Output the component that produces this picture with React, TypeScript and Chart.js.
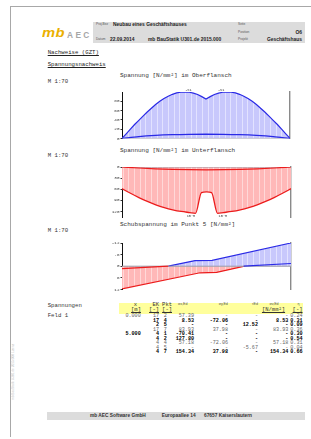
import React, { useEffect, useRef } from "react";
import { Chart, registerables } from "chart.js";
Chart.register(...registerables);

const MONO = '"Liberation Mono", "DejaVu Sans Mono", monospace';
const SANS = '"Liberation Sans", Arial, sans-serif';

// ---------- Daten ----------
const stationenFein = [0,0.25,0.5,0.75,1,1.25,1.5,1.75,2,2.25,2.5,2.75,3,3.25,3.5,3.75,4,4.25,4.5,4.75,5,5.25,5.5,5.75,6,6.25,6.5,6.75,7,7.25,7.5,7.75,8,8.25,8.5,8.75,9,9.25,9.5,9.75,10];
const stationenGrob = [0,1,2,3,4,5,6,7,8,9,10];
const nullX = [0, 10];
const nullY = [0, 0];

// Oberflansch
const oberflanschMax = [0,10,20,30,39,48,57,65,73,80,86,91,95,98,99.5,100,99.5,97.5,94.5,90,85,90,94.5,97.5,99.5,100,99.5,98,95,91,86,80,73,65,57,48,39,30,20,10,0];
const oberflanschMin = [0,4,6.5,8,8.8,9,8.8,8,6.5,4,0];
const oberTicks = [0,10,20,30,40,50,60,70,80,90];
const oberMarkenX = [3.95, 5.9];
const oberMarkenText = ["-S1", "-S1"];

// Unterflansch
const unterX = [0,0.5,1,1.5,2,2.5,3,3.5,4,4.35,4.7,5,5.3,5.65,6,6.5,7,7.5,8,8.5,9,9.5,10];
const unterflanschMin = [-58.5,-71,-82.5,-93,-102,-109.5,-115.5,-120,-123,-125,-69,-67,-69,-125,-123,-120,-115.5,-109.5,-102,-93,-82.5,-71,-58.5];
const unterflanschMax = [0,-2.7,-4.8,-6.3,-7.2,-7.5,-7.2,-6.3,-4.8,-2.7,0];
const unterTicks = [0,-15,-30,-45,-60,-75,-90,-105,-120];
const unterMarkenX = [4.08, 5.97];
const unterMarkenText = ["10·M", "10·M"];

// Schubspannung Punkt 5
const schubBlauX = [2.74, 4.32, 5.33, 10];
const schubBlauY = [0, 2.9, 3.0, 12];
const schubBlau2X = [7.2, 10];
const schubBlau2Y = [0, 1.4];
const schubRotX = [0, 4.62, 5.6, 7.25];
const schubRotY = [-11.7, -3.4, -3.2, 0];
const schubRot2X = [0, 2.74];
const schubRot2Y = [-1.2, 0];
const schubTicks = [12,9,6,3,0,-3,-6,-9,-12];

// Tabelle
const zeileX = ["0.000","","","","5.000","","","",""];
const zeileEK = ["17","17","2","17","4","4","4","4","4"];
const zeilePkt = ["2","4","5","7","1","2","4","5","7"];
const zeileSx = ["57.39","8.53","-","83.93","-70.41","127.80","57.18","-","154.34"];
const zeileSy = ["-","-72.06","-","37.98","-","-","-72.06","-","37.98"];
const zeileTau = ["-","-","12.52","-","-","-","-","-5.67","-"];
const zeileSv = ["-","8.53","-","83.93","-","-","57.18","-","154.34"];
const zeileEta = ["0.24","0.31","0.09","0.36","0.30","0.54","0.31","0.04","0.66"];
const zeileFett = [false,true,true,false,true,true,false,false,true];

// ---------- Hilfen ----------
const BLAU = "#2a2ae6";
const ROT = "#ec1c1c";
const GRAU = "#9a9aa6";

function punkte(x: number[], y: number[]) {
  return x.map((v, i) => ({ x: v, y: y[i] }));
}

function schraffur(base: string, line: string) {
  const c = document.createElement("canvas");
  c.width = 17;
  c.height = 4;
  const g = c.getContext("2d")!;
  g.fillStyle = base;
  g.fillRect(0, 0, 17, 4);
  g.fillStyle = line;
  [0, 6, 11].forEach((p) => g.fillRect(p, 0, 1, 4));
  return g.createPattern(c, "repeat")!;
}

type Serie = { x: number[]; y: number[]; color: string; width: number; fill?: any; mono?: boolean };
type Cfg = {
  yMin: number;
  yMax: number;
  ticks: number[];
  tickText: (v: number) => string;
  pad: { left: number; right: number; top: number; bottom: number };
  serien: Serie[];
  markenX: number[];
  markenY: number;
  markenDy: number;
  markenText: string[];
};

function erstelle(canvas: HTMLCanvasElement, cfg: Cfg) {
  const markPlugin = {
    id: "marken",
    afterDatasetsDraw(chart: any) {
      const { ctx, scales } = chart;
      ctx.save();
      ctx.font = `3.6px ${MONO}`;
      ctx.fillStyle = "#333";
      ctx.textAlign = "center";
      ctx.textBaseline = "middle";
      cfg.markenX.forEach((mx, i) => {
        ctx.fillText(cfg.markenText[i], scales.x.getPixelForValue(mx), scales.y.getPixelForValue(cfg.markenY) + cfg.markenDy);
      });
      ctx.restore();
    },
  };
  return new Chart(canvas, {
    type: "line",
    data: {
      datasets: cfg.serien.map((s) => ({
        data: punkte(s.x, s.y),
        borderColor: s.color,
        borderWidth: s.width,
        pointRadius: 0,
        tension: 0,
        cubicInterpolationMode: s.mono ? "monotone" : "default",
        fill: s.fill ? "origin" : false,
        backgroundColor: s.fill || "transparent",
      })),
    } as any,
    options: {
      responsive: false,
      animation: false,
      events: [],
      layout: { padding: cfg.pad },
      plugins: { legend: { display: false }, tooltip: { enabled: false } },
      scales: {
        x: { type: "linear", min: 0, max: 10, display: false },
        y: {
          min: cfg.yMin,
          max: cfg.yMax,
          position: "left",
          afterFit: (s: any) => {
            s.width = 22;
          },
          afterBuildTicks: (s: any) => {
            s.ticks = cfg.ticks.map((v) => ({ value: v }));
          },
          grid: { display: true, drawOnChartArea: false, drawTicks: true, tickLength: 1.5, tickColor: "#333", color: "transparent" },
          border: { display: true, color: "#111", width: 1 },
          ticks: {
            padding: 1,
            color: "#333",
            font: { family: MONO, size: 4.3 },
            callback: (v: any) => cfg.tickText(Number(v)),
          },
        },
        yr: {
          position: "right",
          min: cfg.yMin,
          max: cfg.yMax,
          afterFit: (s: any) => {
            s.width = 0;
          },
          grid: { display: false, drawTicks: false },
          border: { display: true, color: "#8a8a8a", width: 1.4, dash: [1.4, 1.4] },
          ticks: { display: false },
        },
      },
    } as any,
    plugins: [markPlugin],
  });
}

function Diagramm({ left, top, width, height, make }: { left: number; top: number; width: number; height: number; make: () => Cfg }) {
  const ref = useRef<HTMLCanvasElement>(null);
  useEffect(() => {
    const c = erstelle(ref.current!, make());
    return () => c.destroy();
  }, []);
  return <canvas ref={ref} width={width} height={height} style={{ position: "absolute", left, top, width, height }} />;
}

function T(props: {
  x: number;
  cy: number;
  size: number;
  children: React.ReactNode;
  bold?: boolean;
  font?: string;
  color?: string;
  align?: "left" | "right" | "center";
  underline?: boolean;
  style?: React.CSSProperties;
}) {
  const { x, cy, size, children, bold, font = MONO, color = "#333", align = "left", underline, style } = props;
  const s: React.CSSProperties = {
    position: "absolute",
    top: cy - size / 2,
    fontSize: size,
    lineHeight: `${size}px`,
    fontFamily: font,
    fontWeight: bold ? 700 : 400,
    color,
    whiteSpace: "pre",
    textDecoration: underline ? "underline" : "none",
    ...style,
  };
  if (align === "left") s.left = x;
  else if (align === "right") s.right = 311 - x;
  else {
    s.left = x;
    s.transform = "translateX(-50%)";
  }
  return <div style={s}>{children}</div>;
}

const blauFill = () => schraffur("#c8c8fc", "#e2e2ff");
const rotFill = () => schraffur("#ffb8b8", "#ffd8d8");

const cfgOber = (): Cfg => ({
  yMin: 0,
  yMax: 100,
  ticks: oberTicks,
  tickText: (v) => String(v),
  pad: { left: 0, right: 10, top: 6, bottom: 3 },
  serien: [
    { x: stationenGrob, y: oberflanschMin, color: BLAU, width: 1.3, mono: true },
    { x: nullX, y: nullY, color: GRAU, width: 1 },
    { x: stationenFein, y: oberflanschMax, color: BLAU, width: 1.2, fill: blauFill() },
  ],
  markenX: oberMarkenX,
  markenY: 100,
  markenDy: -2,
  markenText: oberMarkenText,
});

const cfgUnter = (): Cfg => ({
  yMin: -135,
  yMax: 0,
  ticks: unterTicks,
  tickText: (v) => String(-v),
  pad: { left: 0, right: 9, top: 7, bottom: 5 },
  serien: [
    { x: stationenGrob, y: unterflanschMax, color: ROT, width: 1.2, mono: true },
    { x: nullX, y: nullY, color: GRAU, width: 1 },
    { x: unterX, y: unterflanschMin, color: ROT, width: 1.3, mono: true, fill: rotFill() },
  ],
  markenX: unterMarkenX,
  markenY: -126,
  markenDy: 2.5,
  markenText: unterMarkenText,
});

const cfgSchub = (): Cfg => ({
  yMin: -12,
  yMax: 12,
  ticks: schubTicks,
  tickText: (v) => String(-v),
  pad: { left: 0, right: 9, top: 6, bottom: 3 },
  serien: [
    { x: schubBlau2X, y: schubBlau2Y, color: BLAU, width: 1.2 },
    { x: schubRot2X, y: schubRot2Y, color: ROT, width: 1.2 },
    { x: nullX, y: nullY, color: GRAU, width: 1 },
    { x: schubBlauX, y: schubBlauY, color: BLAU, width: 1.2, fill: blauFill() },
    { x: schubRotX, y: schubRotY, color: ROT, width: 1.2, fill: rotFill() },
  ],
  markenX: [],
  markenY: 0,
  markenDy: 0,
  markenText: [],
});

const spalten = [
  { r: 140.7, d: zeileX },
  { r: 159, d: zeileEK },
  { r: 166.7, d: zeilePkt },
  { r: 194, d: zeileSx },
  { r: 228, d: zeileSy },
  { r: 258, d: zeileTau },
  { r: 288.3, d: zeileSv },
  { r: 302.5, d: zeileEta },
];

export default function App() {
  const zeileY0 = 316.6;
  const zeileDy = 4.55;
  return (
    <div style={{ position: "fixed", left: 0, top: 0, width: 311, height: 439, background: "#fff", overflow: "hidden" }}>
      {/* Rahmen */}
      <div style={{ position: "absolute", left: 10, top: 6, width: 301, height: 1, background: "#a8a8a8" }} />
      <div style={{ position: "absolute", left: 10, top: 6, width: 1, height: 431, background: "#a8a8a8" }} />
      <div
        style={{
          position: "absolute",
          left: 11.5,
          top: 400,
          transform: "rotate(-90deg)",
          transformOrigin: "0 0",
          fontSize: 3.2,
          lineHeight: "3.2px",
          fontFamily: SANS,
          color: "#c4c4c4",
          whiteSpace: "pre",
        }}
      >
        mb BauStatik U301.de 2015.000 Lizenz
      </div>

      {/* Logo */}
      <div
        style={{
          position: "absolute",
          left: 42,
          top: 27,
          fontFamily: SANS,
          fontWeight: 900,
          fontStyle: "italic",
          fontSize: 12.5,
          lineHeight: "12.5px",
          color: "#ebb000",
          transform: "scaleX(1.18)",
          transformOrigin: "0 0",
          letterSpacing: 0.3,
        }}
      >
        mb
      </div>
      <div
        style={{
          position: "absolute",
          left: 67,
          top: 30.5,
          fontFamily: SANS,
          fontWeight: 700,
          fontSize: 8.3,
          lineHeight: "8.3px",
          color: "#a6a6a6",
          letterSpacing: 2.4,
        }}
      >
        AEC
      </div>

      {/* Kopfzeile */}
      <div style={{ position: "absolute", left: 93, top: 22, width: 212, height: 21, background: "#dcdcdc" }} />
      <T x={96} cy={25} size={3.2} font={SANS} color="#555">Proj.Bez</T>
      <T x={113} cy={25} size={4.9} font={SANS} bold color="#222">Neubau eines Geschäftshauses</T>
      <T x={238} cy={25} size={3.2} font={SANS} color="#555">Seite</T>
      <T x={238} cy={33} size={3.2} font={SANS} color="#555">Position</T>
      <T x={302} cy={33} size={4.9} font={SANS} bold color="#222" align="right">O6</T>
      <T x={96} cy={40} size={3.2} font={SANS} color="#555">Datum</T>
      <T x={110} cy={40} size={4.9} font={SANS} bold color="#222">22.09.2014</T>
      <T x={148} cy={40} size={4.9} font={SANS} bold color="#222">mb BauStatik U301.de 2015.000</T>
      <T x={238} cy={40} size={3.2} font={SANS} color="#555">Projekt</T>
      <T x={302} cy={40} size={4.9} font={SANS} bold color="#222" align="right">Geschäftshaus</T>

      {/* Überschriften */}
      <T x={47.7} cy={53.3} size={5.7} underline color="#222">Nachweise (GZT)</T>
      <T x={47.7} cy={65.3} size={5.7} underline color="#222">Spannungsnachweis</T>
      <T x={120} cy={76} size={6} color="#333">Spannung [N/mm²] im Oberflansch</T>
      <T x={47.7} cy={82} size={5.7} color="#333">M 1:70</T>
      <T x={120} cy={151} size={6} color="#333">Spannung [N/mm²] im Unterflansch</T>
      <T x={47.7} cy={156.3} size={5.7} color="#333">M 1:70</T>
      <T x={120} cy={225} size={6} color="#333">Schubspannung im Punkt 5 [N/mm²]</T>
      <T x={47.7} cy={230.7} size={5.7} color="#333">M 1:70</T>

      {/* Diagramme */}
      <Diagramm left={100} top={86} width={200} height={56} make={cfgOber} />
      <Diagramm left={100} top={160} width={200} height={62} make={cfgUnter} />
      <Diagramm left={100} top={237} width={200} height={56} make={cfgSchub} />

      {/* Tabelle */}
      <T x={47.7} cy={306} size={5.7} color="#333">Spannungen</T>
      <T x={47.7} cy={316} size={5.7} color="#333">Feld 1</T>
      <div style={{ position: "absolute", left: 119.3, top: 302.5, width: 183.7, height: 11, background: "#ffff9c" }} />
      <T x={135.5} cy={305.2} size={5.5} align="center" color="#333">x</T>
      <T x={136} cy={310.2} size={5.5} align="center" underline color="#333">[m]</T>
      <T x={159} cy={305.2} size={5.5} align="right" color="#333">EK</T>
      <T x={159} cy={310.2} size={5.5} align="right" underline color="#333">[-]</T>
      <T x={172} cy={305.2} size={5.5} align="right" color="#333">Pkt</T>
      <T x={172} cy={310.2} size={5.5} align="right" underline color="#333">[-]</T>
      <T x={182.7} cy={305.2} size={3.6} font={SANS} align="center" color="#555">σx,Ed</T>
      <T x={223.3} cy={305.2} size={3.6} font={SANS} align="center" color="#555">σy,Ed</T>
      <T x={255} cy={305.2} size={3.6} font={SANS} align="center" color="#555">τEd</T>
      <T x={274} cy={305.2} size={3.6} font={SANS} align="center" color="#555">σv,Ed</T>
      <T x={298.5} cy={305.2} size={3.6} font={SANS} align="center" color="#555">η</T>
      <T x={273.5} cy={310.2} size={5.5} align="center" underline color="#333">[N/mm²]</T>
      <T x={302.5} cy={310.2} size={5.5} align="right" underline color="#333">[-]</T>
      {zeileEta.map((_, i) =>
        spalten.map((sp, j) =>
          sp.d[i] ? (
            <T
              key={`${i}-${j}`}
              x={sp.r}
              cy={zeileY0 + i * zeileDy}
              size={5.1}
              align="right"
              bold={zeileFett[i]}
              color={zeileFett[i] ? "#000" : "#666"}
            >
              {sp.d[i]}
            </T>
          ) : null
        )
      )}

      {/* Fußzeile */}
      <div style={{ position: "absolute", left: 46.7, top: 411.7, width: 258.3, height: 8.3, background: "#dcdcdc" }} />
      <T x={90} cy={416} size={4.8} font={SANS} bold color="#333">mb AEC Software GmbH</T>
      <T x={161.7} cy={416} size={4.8} font={SANS} bold color="#333">Europaallee 14</T>
      <T x={204} cy={416} size={4.8} font={SANS} bold color="#333">67657 Kaiserslautern</T>
    </div>
  );
}
